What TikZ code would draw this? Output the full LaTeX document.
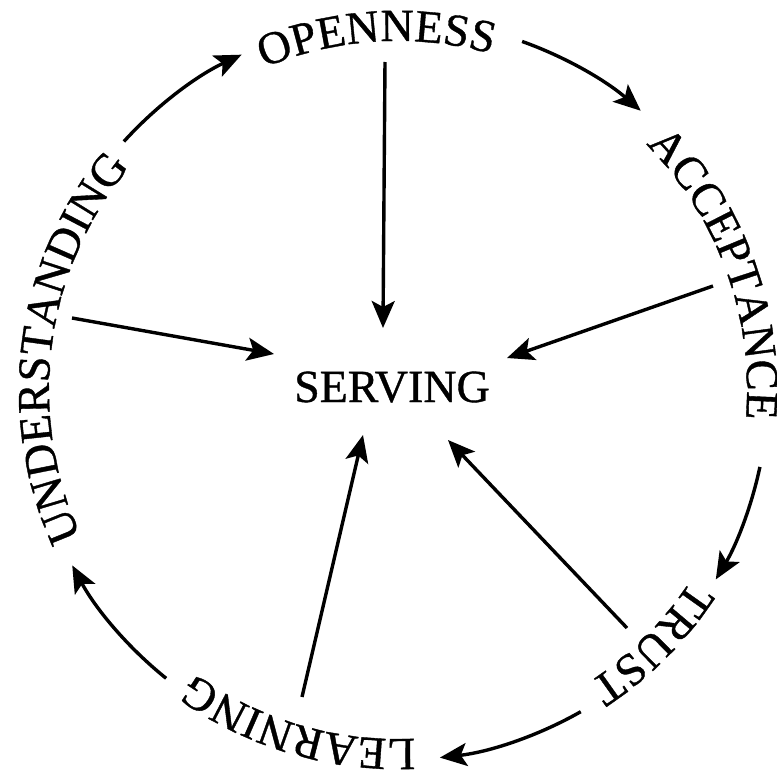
\documentclass[tikz,border=0pt]{standalone}
\usepackage{fontspec}
\setmainfont[UprightFeatures={FakeBold=0.8}]{Liberation Serif}
\usetikzlibrary{decorations.text,arrows.meta}
\newcommand\wordfont{\fontsize{46}{50}\selectfont}
\begin{document}
\begin{tikzpicture}[x=1pt,y=1pt,
  flow/.style={line width=3.4pt,-{Stealth[length=27pt,width=23pt,inset=6pt]}}
]
\useasboundingbox[fill=white] (-398,-382) rectangle (379,390);
\def\R{349}
\def\A{370}
% words on the ring (clockwise, letters pointing outward)
\path[decorate,decoration={text along path,text align=center,text={|\wordfont|OPENNESS}}]
  (133.5:\R) arc[start angle=133.5,end angle=53.5,radius=\R];
\path[decorate,decoration={text along path,text align=center,text={|\wordfont|ACCEPTANCE}}]
  (60:\R) arc[start angle=60,end angle=-20,radius=\R];
\path[decorate,decoration={text along path,text align=center,text={|\wordfont|TRUST}}]
  (-10:\R) arc[start angle=-10,end angle=-80,radius=\R];
\path[decorate,decoration={text along path,text align=center,text={|\wordfont|LEARNING}}]
  (-66.5:\R) arc[start angle=-66.5,end angle=-146.5,radius=\R];
\path[decorate,decoration={text along path,text align=center,text={|\wordfont|UNDERSTANDING}}]
  (222.5:\R) arc[start angle=222.5,end angle=122.5,radius=\R];
% centre
\node[font=\wordfont,anchor=base,inner sep=0pt] (serving) at (-6,-12) {SERVING};
% ring arrows
\coordinate (u1) at (137.8:\A);
\coordinate (o1) at (70.4:\A);
\coordinate (a1) at (-12:\A);
\coordinate (t1) at (-60.4:\A);
\coordinate (l1) at (231.2:\A);
\draw[flow] (u1) arc[start angle=137.8,end angle=115,radius=\A];
\draw[flow] (o1) arc[start angle=70.4,end angle=49,radius=\A];
\draw[flow] (a1) arc[start angle=-12,end angle=-30.8,radius=\A];
\draw[flow] (t1) arc[start angle=-60.4,end angle=-83.5,radius=\A];
\draw[flow] (l1) arc[start angle=231.2,end angle=208.3,radius=\A];
% radial arrows
\coordinate (os) at (-13,328);   \coordinate (ot) at (-15,62);
\coordinate (as) at (315,104);   \coordinate (at) at (109,32);
\coordinate (us) at (-326,72);   \coordinate (ut) at (-124,36);
\coordinate (ls) at (-96,-307);  \coordinate (lt) at (-35,-45);
\coordinate (ts) at (229,-238);  \coordinate (tt) at (50,-50);
\draw[flow] (os) -- (ot);
\draw[flow] (as) -- (at);
\draw[flow] (us) -- (ut);
\draw[flow] (ls) -- (lt);
\draw[flow] (ts) -- (tt);
\end{tikzpicture}
\end{document}
